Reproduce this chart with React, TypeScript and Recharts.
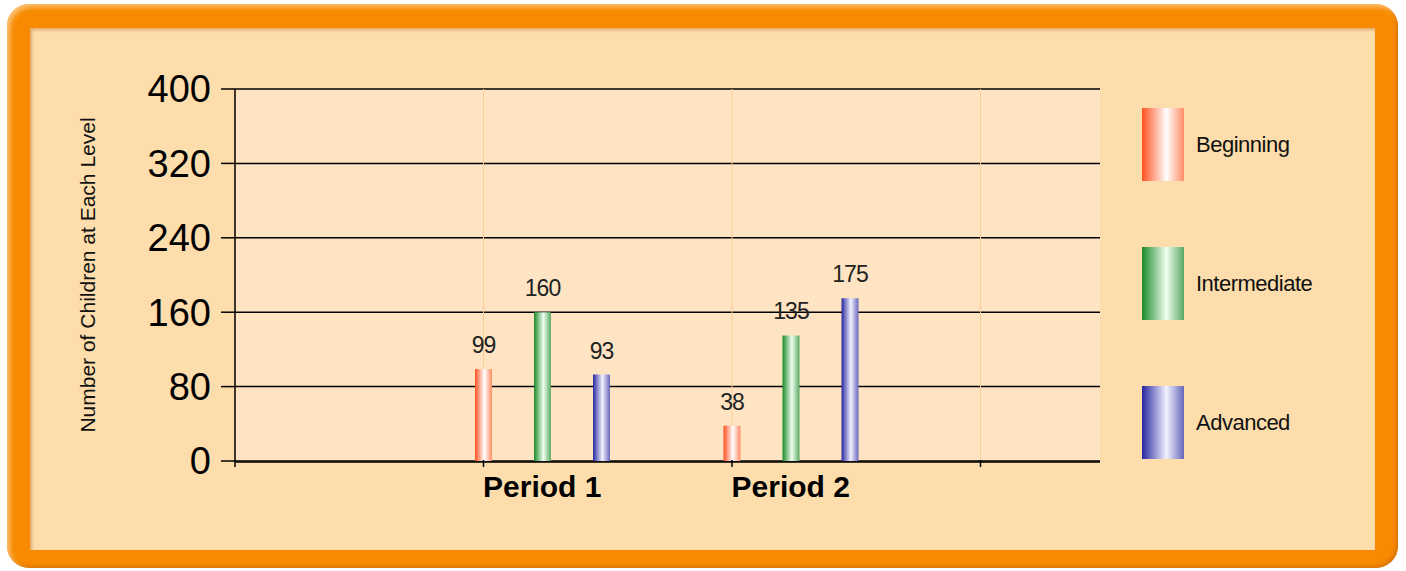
import { Bar, BarChart, CartesianGrid, LabelList, Legend, XAxis, YAxis } from 'recharts'

const periods = ['Period 1', 'Period 2']
const beginning = [99, 38]
const intermediate = [160, 135]
const advanced = [93, 175]
const yTicks = [0, 80, 160, 240, 320, 400]
const gridTicks = [0, 1, 2, 3]

const data = periods.map((period, i) => ({
  period,
  beginning: beginning[i],
  intermediate: intermediate[i],
  advanced: advanced[i],
}))

const series = [
  { key: 'beginning', name: 'Beginning', stops: ['#ff5020', '#ffffff', '#ff8c64'] },
  { key: 'intermediate', name: 'Intermediate', stops: ['#1a8a28', '#f0fff0', '#58a862'] },
  { key: 'advanced', name: 'Advanced', stops: ['#2626a0', '#f2f2ff', '#6666bb'] },
]

const W = 1406
const H = 571
const PLOT_LEFT = 235
const PLOT_RIGHT = 1100
const PLOT_TOP = 89
const PLOT_BOTTOM = 461
const PAD_LEFT = 183
const PAD_RIGHT = 185
const plotWidth = PLOT_RIGHT - PLOT_LEFT
const band = (plotWidth - PAD_LEFT - PAD_RIGHT) / periods.length

const sans = "'Liberation Sans', Arial, sans-serif"

function LegendBox({ payload }: any) {
  const items = series.filter((s) => (payload || []).some((p: any) => p.value === s.name))
  return (
    <div style={{ display: 'flex', flexDirection: 'column', gap: 66 }}>
      {items.map((s) => (
        <div key={s.key} style={{ display: 'flex', alignItems: 'center', height: 73 }}>
          <div
            style={{
              width: 42,
              height: 73,
              background: `linear-gradient(to right, ${s.stops[0]} 0%, ${s.stops[1]} 58%, ${s.stops[2]} 100%)`,
            }}
          />
          <span style={{ marginLeft: 12, fontFamily: sans, fontSize: 22, letterSpacing: -0.5, color: '#111' }}>
            {s.name}
          </span>
        </div>
      ))}
    </div>
  )
}

// small tick marks hanging below the x axis line
function GridTick({ x, y }: any) {
  return <line x1={x} x2={x} y1={y - 1} y2={y + 6} stroke="#000" strokeWidth={1.5} />
}

export default function App() {
  return (
    <div style={{ position: 'absolute', left: 0, top: 0, width: W, height: H, background: '#fff' }}>
      <div
        style={{
          position: 'absolute',
          left: 7,
          top: 4,
          width: 1391,
          height: 564,
          borderRadius: 22,
          background: '#f78a00',
          boxShadow: 'inset 3px 3px 5px rgba(255,200,130,0.9), inset -2px -2px 3px rgba(200,100,0,0.6)',
        }}
      />
      <div
        style={{
          position: 'absolute',
          left: 30,
          top: 28,
          width: 1345,
          height: 522,
          background: '#fdddab',
          boxShadow: 'inset 2px 2px 3px rgba(190,110,30,0.45)',
        }}
      />
      <div style={{ position: 'absolute', left: 0, top: 0 }}>
        <BarChart
          width={W}
          height={H}
          data={data}
          barSize={17}
          barGap={42}
          margin={{ top: PLOT_TOP, right: W - PLOT_RIGHT, bottom: H - PLOT_BOTTOM - 60, left: 78 }}
        >
          <defs>
            {series.map((s) => (
              <linearGradient key={s.key} id={`grad-${s.key}`} x1="0" y1="0" x2="1" y2="0">
                <stop offset="0%" stopColor={s.stops[0]} />
                <stop offset="55%" stopColor={s.stops[1]} />
                <stop offset="100%" stopColor={s.stops[2]} />
              </linearGradient>
            ))}
          </defs>
          <CartesianGrid xAxisId={1} vertical={false} stroke="#000" strokeWidth={1.5} fill="#fee4c2" fillOpacity={1} />
          <CartesianGrid
            xAxisId={1}
            horizontal={false}
            stroke="#f8cf98"
            verticalCoordinatesGenerator={({ offset }: any) => gridTicks.map((k) => offset.left + k * band)}
          />
          <XAxis
            xAxisId={0}
            dataKey="beginning"
            type="number"
            domain={[0, plotWidth / band]}
            allowDataOverflow
            ticks={gridTicks}
            interval={0}
            tick={<GridTick />}
            axisLine={false}
            tickLine={false}
            tickSize={0}
            tickMargin={0}
            height={1}
          />
          <XAxis
            xAxisId={1}
            dataKey="period"
            interval={0}
            padding={{ left: PAD_LEFT, right: PAD_RIGHT }}
            axisLine={{ stroke: '#000', strokeWidth: 1.5 }}
            tickLine={false}
            tickMargin={8}
            height={59}
            tick={{ fontFamily: sans, fontSize: 30, fontWeight: 700, fill: '#000' }}
          />
          <YAxis
            domain={[0, 400]}
            ticks={yTicks}
            width={PLOT_LEFT - 78}
            axisLine={{ stroke: '#000', strokeWidth: 1.5 }}
            tickLine={{ stroke: '#000', strokeWidth: 1.5 }}
            tickSize={14}
            tickMargin={10}
            tick={{ fontFamily: sans, fontSize: 38, fill: '#000' }}
            label={{
              value: 'Number of Children at Each Level',
              angle: -90,
              position: 'insideLeft',
              offset: 10,
              style: { fontFamily: sans, fontSize: 21, fill: '#111', textAnchor: 'middle' },
            }}
          />
          <Legend
            layout="horizontal"
            verticalAlign="middle"
            align="center"
            content={<LegendBox />}
            wrapperStyle={{ left: 1142, top: 108, width: 240 }}
          />
          {series.map((s) => (
            <Bar
              key={s.key}
              xAxisId={1}
              dataKey={s.key}
              name={s.name}
              fill={`url(#grad-${s.key})`}
              isAnimationActive={false}
            >
              <LabelList
                dataKey={s.key}
                position="top"
                offset={16}
                style={{ fontFamily: sans, fontSize: 23, letterSpacing: -1, fill: '#222' }}
              />
            </Bar>
          ))}
        </BarChart>
      </div>
    </div>
  )
}
